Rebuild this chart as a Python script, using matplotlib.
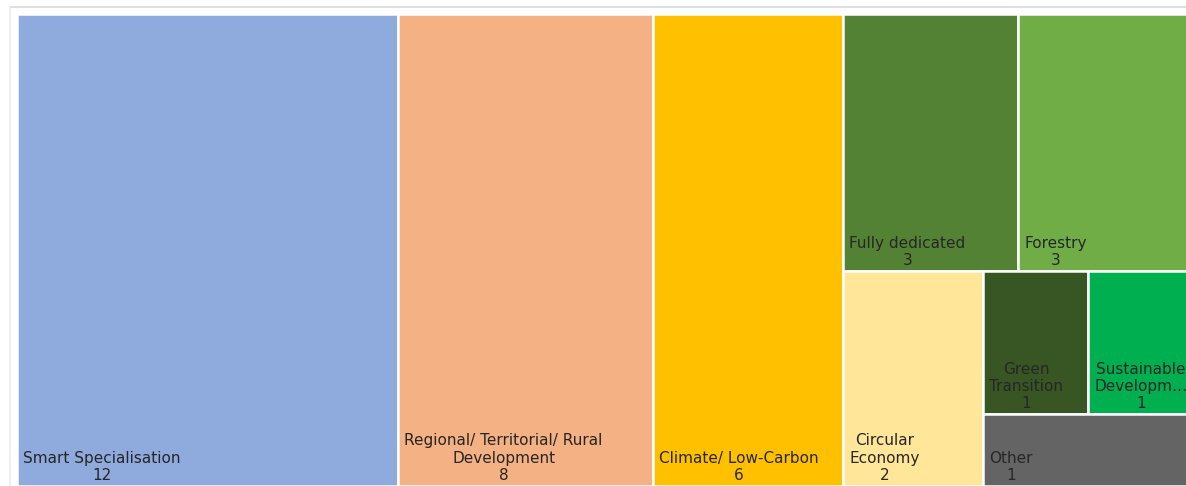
import matplotlib.pyplot as plt
from matplotlib.patches import Rectangle

labels = ['Smart Specialisation', 'Regional/ Territorial/ Rural\nDevelopment',
          'Climate/ Low-Carbon', 'Fully dedicated', 'Forestry',
          'Circular\nEconomy', 'Green\nTransition', 'Sustainable\nDevelopm…', 'Other']
values = [12, 8, 6, 3, 3, 2, 1, 1, 1]
colors = ['#8FAADC', '#F4B183', '#FFC000', '#548235', '#70AD47',
          '#FFE699', '#375623', '#00B050', '#646464']

# nesting of the treemap: 'h' = side by side, 'v' = stacked
tree = ['h', 0, 1, 2, ['v', ['h', 3, 4], ['h', 5, ['v', ['h', 6, 7], 8]]]]


def total(node):
    if isinstance(node, int):
        return values[node]
    return sum(total(n) for n in node[1:])


def layout(node, x, y, w, h, out):
    if isinstance(node, int):
        out[node] = (x, y, w, h)
        return
    s = total(node)
    for child in node[1:]:
        f = total(child) / s
        if node[0] == 'h':
            layout(child, x, y, w * f, h, out)
            x += w * f
        else:
            layout(child, x, y, w, h * f, out)
            y += h * f


rects = {}
layout(tree, 17, 14, 1176, 472, rects)

fig = plt.figure(figsize=(11.86, 4.86), dpi=100)
ax = fig.add_axes([0, 0, 1, 1])
ax.set_xlim(0, 1186)
ax.set_ylim(486, 0)
ax.axis('off')

# light frame
ax.plot([10, 1186], [7, 7], color='#d9d9d9', lw=1.2)
ax.plot([10, 10], [7, 486], color='#ececec', lw=1.2)

for i in range(len(values)):
    x, y, w, h = rects[i]
    ax.add_patch(Rectangle((x, y), w, h, facecolor=colors[i],
                           edgecolor='white', lw=1.8))
    ax.text(x + 6, y + h - 3, labels[i] + '\n' + str(values[i]),
            ha='left', va='bottom', multialignment='center',
            fontsize=11, color='#262626', linespacing=1.2,
            clip_on=True)

fig.savefig('out.png', dpi=100)
